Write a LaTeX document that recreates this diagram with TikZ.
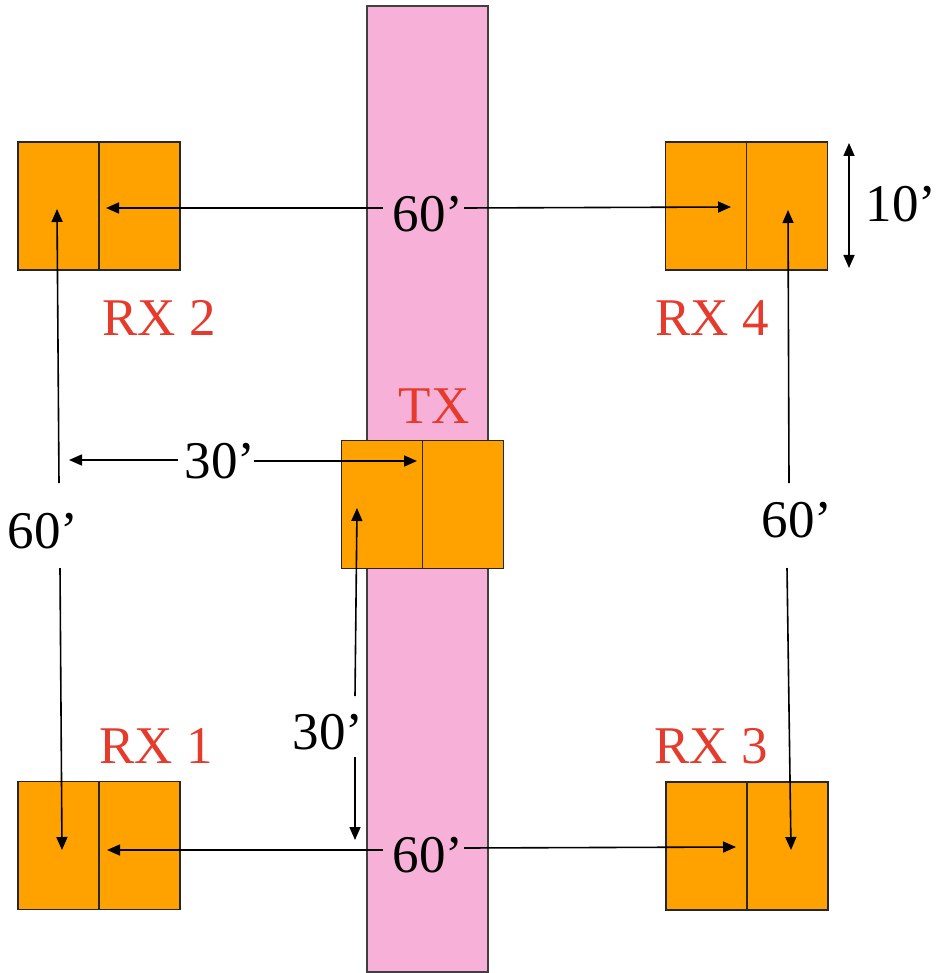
\documentclass[tikz,border=0pt]{standalone}
\usepackage{fontspec}
\setmainfont{Liberation Serif}
\usetikzlibrary{arrows.meta}
\definecolor{boxorange}{HTML}{FFA200}
\definecolor{lblred}{HTML}{E53A2C}
\definecolor{stripe}{HTML}{F7B1D8}
\begin{document}
\begin{tikzpicture}[x=1pt,y=-1pt,
  rxbox/.style={draw=black!85,fill=boxorange,line width=1.6pt,minimum width=162pt,minimum height=128pt,inner sep=0pt,outer sep=0pt},
  divider/.style={draw=black!85,line width=1.6pt},
  redlbl/.style={font=\fontsize{53}{60}\selectfont,anchor=base,inner sep=0pt,text=lblred},
  dimlbl/.style={font=\fontsize{53}{60}\selectfont,anchor=base,inner sep=0pt,text=black},
  arr/.style={-{Triangle[length=13pt,width=11pt]},line width=1.6pt},
  darr/.style={{Triangle[length=13pt,width=11pt]}-{Triangle[length=13pt,width=11pt]},line width=1.6pt}
]
\useasboundingbox (0,0) rectangle (935,973);
\fill[white] (0,0) rectangle (935,973);
% pink strip
\node[draw=black!75,fill=stripe,line width=1.8pt,minimum width=121pt,minimum height=966pt,inner sep=0pt] (strip) at (427.5,489) {};
% boxes
\node[rxbox] (rx2) at (99,206) {};
\node[rxbox] (rx4) at (746.5,206) {};
\node[rxbox] (tx) at (422.5,504.5) {};
\node[rxbox] (rx1) at (99,845.5) {};
\node[rxbox] (rx3) at (747,846) {};
\foreach \b in {rx2,rx4,tx,rx1,rx3} \draw[divider] (\b.north) -- (\b.south);
% labels
\node[redlbl] (lrx2) at (159,335) {RX 2};
\node[redlbl] (lrx4) at (712,335) {RX 4};
\node[redlbl] (ltx) at (434,423) {TX};
\node[redlbl] (lrx1) at (156,763) {RX 1};
\node[redlbl] (lrx3) at (711,763) {RX 3};
% dimension labels
\node[dimlbl] (dtop) at (428,232) {60’};
\node[dimlbl] (dbot) at (428,872) {60’};
\node[dimlbl] (dleft) at (43,548) {60’};
\node[dimlbl] (dright) at (797,537) {60’};
\node[dimlbl] (dh30) at (220,478) {30’};
\node[dimlbl] (dv30) at (328,749) {30’};
\node[dimlbl] (d10) at (901,222) {10’};
% coordinates
\coordinate (t1) at (383,208); \coordinate (t1e) at (106,208);
\coordinate (t2) at (464,208); \coordinate (t2e) at (731,207);
\coordinate (b1) at (383,850); \coordinate (b1e) at (107,850);
\coordinate (b2) at (464,848); \coordinate (b2e) at (736,847);
\coordinate (l1) at (59,483); \coordinate (l1e) at (57,209);
\coordinate (l2) at (60,568); \coordinate (l2e) at (62,850);
\coordinate (r1) at (789,483); \coordinate (r1e) at (788,210);
\coordinate (r2) at (787,568); \coordinate (r2e) at (791,850);
\coordinate (h1) at (178,460); \coordinate (h1e) at (69,460);
\coordinate (h2) at (254,461); \coordinate (h2e) at (417,461);
\coordinate (v1) at (355,696); \coordinate (v1e) at (357,508);
\coordinate (v2) at (355,757); \coordinate (v2e) at (355,840);
\coordinate (s1) at (849,143); \coordinate (s2) at (849,268);
% arrows
\draw[arr] (t1) -- (t1e);
\draw[arr] (t2) -- (t2e);
\draw[arr] (b1) -- (b1e);
\draw[arr] (b2) -- (b2e);
\draw[arr] (l1) -- (l1e);
\draw[arr] (l2) -- (l2e);
\draw[arr] (r1) -- (r1e);
\draw[arr] (r2) -- (r2e);
\draw[arr] (h1) -- (h1e);
\draw[arr] (h2) -- (h2e);
\draw[arr] (v1) -- (v1e);
\draw[arr] (v2) -- (v2e);
\draw[darr] (s1) -- (s2);
\end{tikzpicture}
\end{document}
